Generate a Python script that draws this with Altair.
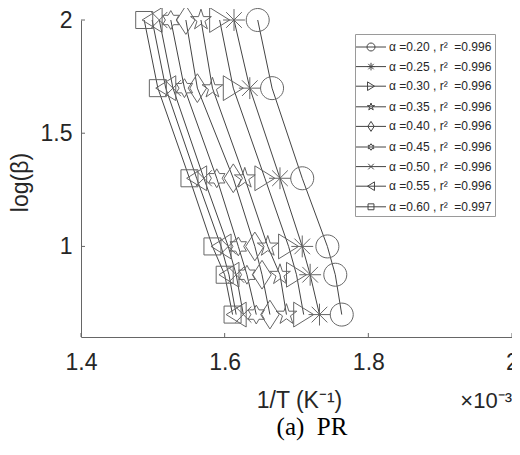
import math
import altair as alt
import pandas as pd

# ---------------- data ----------------
alphas = ["0.20", "0.25", "0.30", "0.35", "0.40", "0.45", "0.50", "0.55", "0.60"]
r2_values = ["0.996", "0.996", "0.996", "0.996", "0.996", "0.996", "0.996", "0.996", "0.997"]
log_beta = [2.0, 1.699, 1.301, 1.0, 0.875, 0.699]

x_a020 = [1.646, 1.666, 1.708, 1.743, 1.754, 1.763]
x_a025 = [1.613, 1.635, 1.677, 1.708, 1.719, 1.732]
x_a030 = [1.593, 1.612, 1.656, 1.689, 1.700, 1.710]
x_a035 = [1.567, 1.583, 1.628, 1.660, 1.677, 1.686]
x_a040 = [1.546, 1.562, 1.612, 1.642, 1.652, 1.663]
x_a045 = [1.525, 1.544, 1.589, 1.619, 1.631, 1.644]
x_a050 = [1.509, 1.528, 1.571, 1.605, 1.616, 1.626]
x_a055 = [1.499, 1.518, 1.561, 1.595, 1.606, 1.616]
x_a060 = [1.488, 1.507, 1.551, 1.583, 1.600, 1.611]
series_x = [x_a020, x_a025, x_a030, x_a035, x_a040, x_a045, x_a050, x_a055, x_a060]

x_ticks = [1.4, 1.6, 1.8, 2.0]
y_ticks = [1.0, 1.5, 2.0]

NB = "\u00a0"
labels = [f"α{NB}={a}{NB},{NB}r²{NB}{NB}={r}" for a, r in zip(alphas, r2_values)]

rows = []
for a, lab, xs in zip(alphas, labels, series_x):
    for xv, yv in zip(xs, log_beta):
        rows.append({"alpha": a, "label": lab, "invT": xv, "logb": yv})
df = pd.DataFrame(rows)

# ---------------- marker paths (style only) ----------------
def f(v):
    return f"{v:.3f}"

def poly(pts, k):
    return "M" + "L".join(f"{f(x*k)},{f(y*k)}" for x, y in pts) + "Z"

def star_pts(n, ro, ri):
    pts = []
    for i in range(2 * n):
        r = ro if i % 2 == 0 else ri
        th = math.pi * i / n
        pts.append((r * math.sin(th), -r * math.cos(th)))
    return pts

def circle(k):
    r = f(k)
    return f"M{r},0A{r},{r} 0 1,1 {f(-k)},0A{r},{r} 0 1,1 {r},0Z"

def asterisk(k):
    a, d = 0.95 * k, 0.68 * k
    return (f"M{f(-a)},0L{f(a)},0M0,{f(-a)}L0,{f(a)}"
            f"M{f(-d)},{f(-d)}L{f(d)},{f(d)}M{f(-d)},{f(d)}L{f(d)},{f(-d)}")

def xmark(k):
    d = 0.7 * k
    return f"M{f(-d)},{f(-d)}L{f(d)},{f(d)}M{f(-d)},{f(d)}L{f(d)},{f(-d)}"

def tri_right(k):
    return poly([(0.87, 0), (-0.87, -1.08), (-0.87, 1.08)], k)

def tri_left(k):
    return poly([(-0.87, 0), (0.87, -1.08), (0.87, 1.08)], k)

def pentagram(k):
    return poly(star_pts(5, 0.95, 0.363), k)

def hexagram(k):
    return poly(star_pts(6, 0.82, 0.47), k)

def diamond(k):
    return poly([(0, -1.25), (0.8, 0), (0, 1.25), (-0.8, 0)], k)

def square(k):
    return poly([(-0.74, -0.74), (0.74, -0.74), (0.74, 0.74), (-0.74, 0.74)], k)

makers = [circle, asterisk, tri_right, pentagram, diamond, hexagram, xmark, tri_left, square]
plot_paths = [m(1.0) for m in makers]
legend_paths = ["M-1.58,0H1.58" + m(0.42) for m in makers]

# ---------------- chart ----------------
W, H = 431, 317
FONT = "Liberation Sans"
xscale = alt.Scale(domain=[1.4, 2.0], nice=False, zero=False)
yscale = alt.Scale(domain=[0.6, 2.0], nice=False, zero=False)

xaxis = alt.Axis(values=x_ticks, format="~g", labelFont=FONT, labelFontSize=23,
                 labelColor="#262626", labelPadding=14, labelFlush=False,
                 labelOverlap=False, ticks=False, grid=False,
                 domainColor="#666666", domainWidth=1,
                 title="1/T (K⁻¹)", titleFont=FONT, titleFontSize=23,
                 titleFontWeight="normal", titleColor="#262626",
                 titleX=218, titleY=70, titleAlign="center",
                 titleBaseline="alphabetic")
yaxis = alt.Axis(values=y_ticks, format="~g", labelFont=FONT, labelFontSize=23,
                 labelColor="#262626", labelPadding=9, labelFlush=False,
                 labelOverlap=False, ticks=False, grid=False,
                 domainColor="#666666", domainWidth=1,
                 title="log(β)", titleFont=FONT, titleFontSize=23,
                 titleFontWeight="normal", titleColor="#262626",
                 titleX=-54, titleY=162, titleAngle=270, titleAlign="center",
                 titleBaseline="alphabetic")

X = alt.X("invT:Q", scale=xscale, axis=xaxis)
Y = alt.Y("logb:Q", scale=yscale, axis=yaxis)

lines = alt.Chart(df).mark_line(color="#444444", strokeWidth=1).encode(
    x=X, y=Y,
    detail="alpha:N",
    order=alt.Order("logb:Q", sort="descending"),
)

points = alt.Chart(df).mark_point(filled=False, stroke="#666666", strokeWidth=1,
                                  size=529, opacity=1).encode(
    x=X, y=Y,
    shape=alt.Shape("alpha:N", scale=alt.Scale(domain=alphas, range=plot_paths), legend=None),
)

legend_layer = alt.Chart(df).transform_filter("datum.logb > 100").mark_point(
    filled=False, stroke="#444444", strokeWidth=1, size=361, opacity=1
).encode(
    x=X, y=Y,
    shape=alt.Shape("label:N", scale=alt.Scale(domain=labels, range=legend_paths),
                    sort=labels,
                    legend=alt.Legend(title=None, orient="none", legendX=274, legendY=14,
                                      padding=3, rowPadding=3.6,
                                      strokeColor="#9a9a9a", fillColor="white",
                                      symbolSize=361, symbolOffset=3,
                                      symbolStrokeWidth=1, symbolStrokeColor="#444444",
                                      labelOffset=8, labelFont=FONT,
                                      labelFontSize=12, labelColor="#262626",
                                      labelLimit=200)),
)

xt = alt.Chart(pd.DataFrame({"invT": x_ticks})).mark_rule(color="#666666", strokeWidth=1).encode(
    x=X, y=alt.value(H - 4), y2=alt.value(H))
yt = alt.Chart(pd.DataFrame({"logb": y_ticks})).mark_rule(color="#666666", strokeWidth=1).encode(
    y=Y, x=alt.value(0), x2=alt.value(4))

exp_text = alt.Chart(pd.DataFrame({"t": ["×10⁻³"]})).mark_text(
    font=FONT, fontSize=22, color="#262626", align="right", baseline="alphabetic"
).encode(text="t:N", x=alt.value(W), y=alt.value(388))

caption = alt.Chart(pd.DataFrame({"t": [f"(a){NB}{NB}PR"]})).mark_text(
    font="Liberation Serif", fontSize=25, color="black", align="center", baseline="alphabetic"
).encode(text="t:N", x=alt.value(231), y=alt.value(415))

chart = alt.layer(lines, points, legend_layer, xt, yt, exp_text, caption).resolve_scale(
    shape="independent"
).properties(
    width=W, height=H,
    autosize=alt.AutoSizeParams(type="none"),
    padding={"left": 73, "top": 12, "right": 0, "bottom": 105},
).configure_view(stroke=None)

chart.save("out.html", embed_options={"renderer": "svg", "actions": False})
